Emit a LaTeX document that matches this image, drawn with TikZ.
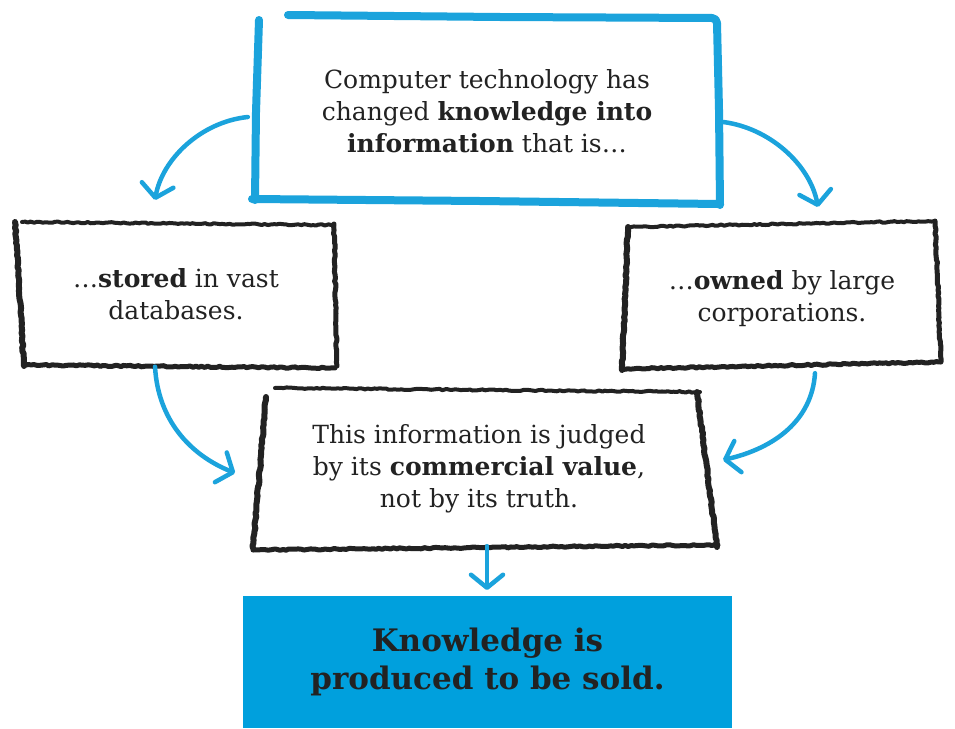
\documentclass[tikz,border=0pt]{standalone}
\usepackage{fontspec}
\setmainfont{DejaVu Serif}
\usetikzlibrary{arrows.meta,decorations.pathmorphing,calc}
\definecolor{skblue}{HTML}{1BA3DC}
\definecolor{fillblue}{HTML}{00A0DD}
\definecolor{ink}{HTML}{222222}
\begin{document}
\begin{tikzpicture}[x=1pt,y=-1pt,
  txt/.style={align=center,font=\fontsize{25}{32}\selectfont,text=ink,inner sep=0pt},
  boxarea/.style={inner sep=0pt,draw=none},
  bluepen/.style={draw=skblue,line width=8pt,line cap=round,line join=round},
  charcoal/.style={draw=ink,line width=5pt,line cap=round,line join=round,decorate,decoration={random steps,segment length=3pt,amplitude=0.7pt}},
  flow/.style={draw=skblue,line width=4.5pt,line cap=round,-{Straight Barb[length=13pt,width=32pt,round]}},
]
\useasboundingbox (0,0) rectangle (955,728);
\fill[white] (0,0) rectangle (955,728);

% bottom filled box
\node[boxarea,fill=fillblue,minimum width=489pt,minimum height=132pt,
      align=center,font=\fontsize{31}{38}\selectfont\bfseries,text=ink] (botbox) at (487.5,662)
  {Knowledge is\\produced to be sold.};

% top box
\node[boxarea,txt,minimum width=464pt,minimum height=185pt] (topbox) at (487,111)
  {Computer technology has\\changed \textbf{knowledge into}\\\textbf{information} that is\ldots};
\draw[bluepen] (259,20) -- (256,112) -- (255,200);
\draw[bluepen] (288,15) -- (500,17) -- (712,18) to[out=0,in=90] (717,23);
\draw[bluepen] (717,23) -- (719,110) -- (720,205);
\draw[bluepen] (252,199) -- (480,201) -- (718,204);

% left box
\node[boxarea,txt,minimum width=318pt,minimum height=143pt] (leftbox) at (176,294)
  {\ldots\textbf{stored} in vast\\databases.};
\draw[charcoal,line width=4pt] (22,222) -- (333,225);
\draw[charcoal] (334,224) -- (337,366);
\draw[charcoal] (25,365) -- (335,368);
\draw[charcoal,line width=6pt] (15,222) -- (24,366);

% right box
\node[boxarea,txt,minimum width=314pt,minimum height=144pt] (rightbox) at (782,299)
  {\ldots\textbf{owned} by large\\corporations.};
\draw[charcoal,line width=4pt] (628,227) -- (935,221);
\draw[charcoal] (935,221) -- (941,362);
\draw[charcoal] (622,369) -- (940,362);
\draw[charcoal,line width=6pt] (628,227) -- (622,370);

% middle box
\node[boxarea,txt,minimum width=460pt,minimum height=156pt] (midbox) at (479,469)
  {This information is judged\\by its \textbf{commercial value},\\not by its truth.};
\draw[charcoal,line width=4pt] (275,388) -- (700,392);
\draw[charcoal,line width=6pt] (266,397) -- (253,548);
\draw[charcoal,line width=6pt] (697,392) -- (717,547);
\draw[charcoal] (253,550) -- (718,545);

% arrow tips
\coordinate (t1) at (155,200);
\coordinate (t2) at (818,207);
\coordinate (t3) at (235,473);
\coordinate (t4) at (723,460);
\coordinate (t5) at (487,590);

\draw[flow] ($(topbox.west)+(-7,6)$) .. controls (200,122) and (162,160) .. (t1);
\draw[flow] ($(topbox.east)+(4,11)$) .. controls (770,128) and (810,165) .. (t2);
\draw[flow] ($(leftbox.south)+(-21,1)$) .. controls (158,420) and (190,455) .. (t3);
\draw[flow] ($(rightbox.south)+(33,2)$) .. controls (812,420) and (775,448) .. (t4);
\draw[flow] ($(midbox.south)+(8,-1)$) -- (t5);
\end{tikzpicture}
\end{document}
